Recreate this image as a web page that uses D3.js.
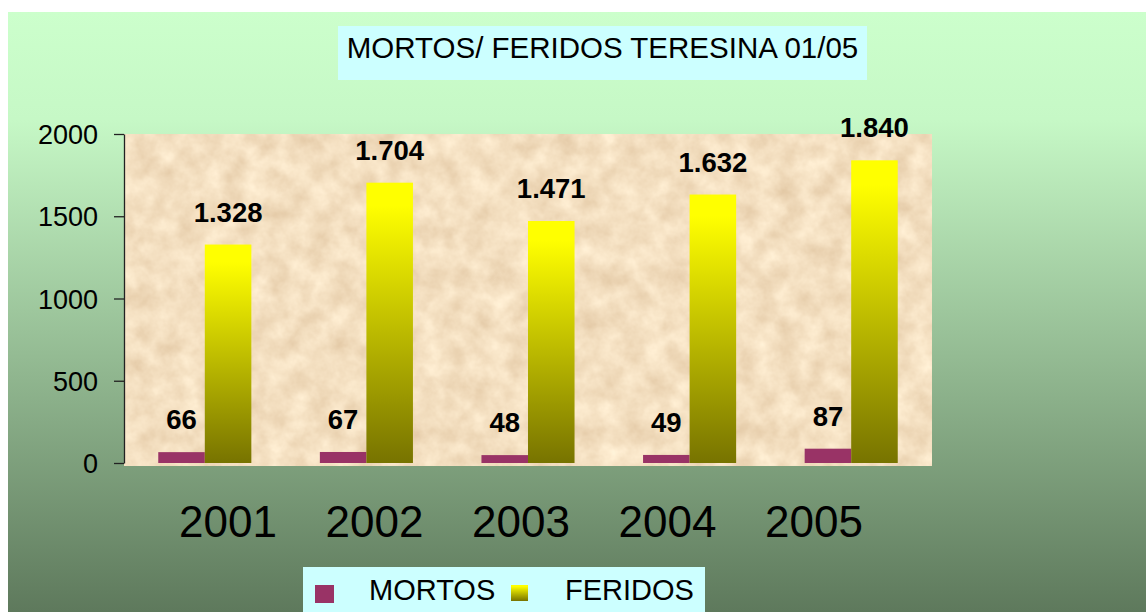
<!DOCTYPE html>
<html>
<head>
<meta charset="utf-8">
<script src="https://cdn.jsdelivr.net/npm/d3@7"></script>
<style>
  body { margin: 0; background: #fff; }
  svg { display: block; font-family: "Liberation Sans", Arial, sans-serif; }
</style>
</head>
<body>
<div id="chart"></div>
<script>
// dados
const years = ["2001", "2002", "2003", "2004", "2005"];
const series = ["MORTOS", "FERIDOS"];
const mortos = [66, 67, 48, 49, 87];
const feridos = [1328, 1704, 1471, 1632, 1840];
const yTicks = [0, 500, 1000, 1500, 2000];
const title = "MORTOS/ FERIDOS TERESINA 01/05";

const W = 1146, H = 612;
const plot = { left: 124, right: 932, top: 134, bottom: 463 };

const br = d3.formatLocale({ decimal: ",", thousands: ".", grouping: [3], currency: ["R$", ""] });
const fmt = br.format(",d");

const svg = d3.select("#chart").append("svg")
  .attr("width", W).attr("height", H);

const defs = svg.append("defs");

// fundo verde
const bg = defs.append("linearGradient").attr("id", "bg")
  .attr("x1", 0).attr("y1", 0).attr("x2", 0).attr("y2", 1);
bg.append("stop").attr("offset", "0%").attr("stop-color", "#ccffcc");
bg.append("stop").attr("offset", "18%").attr("stop-color", "#c6f8c6");
bg.append("stop").attr("offset", "100%").attr("stop-color", "#5e795c");

// barras amarelas
const yel = defs.append("linearGradient").attr("id", "yel")
  .attr("x1", 0).attr("y1", 0).attr("x2", 0).attr("y2", 1);
yel.append("stop").attr("offset", "0%").attr("stop-color", "#ffff00");
yel.append("stop").attr("offset", "8%").attr("stop-color", "#ffff00");
yel.append("stop").attr("offset", "100%").attr("stop-color", "#777300");

// textura de papel
const paper = defs.append("filter").attr("id", "paper")
  .attr("x", 0).attr("y", 0).attr("width", 1).attr("height", 1)
  .attr("color-interpolation-filters", "sRGB");
paper.append("feTurbulence").attr("type", "fractalNoise")
  .attr("baseFrequency", 0.045).attr("numOctaves", 4).attr("seed", 7);
paper.append("feColorMatrix").attr("type", "matrix")
  .attr("values", "0.14 0 0 0 0.885  0.19 0 0 0 0.78  0.23 0 0 0 0.64  0 0 0 0 1");

svg.append("rect").attr("x", 8).attr("y", 12)
  .attr("width", W - 8).attr("height", H - 12).attr("fill", "url(#bg)");

// titulo
svg.append("rect").attr("x", 338).attr("y", 26).attr("width", 529).attr("height", 54)
  .attr("fill", "#ccffff");
svg.append("text").attr("x", 602.5).attr("y", 58).attr("text-anchor", "middle")
  .attr("font-size", 29.5).attr("fill", "#000").text(title);

// area do grafico
svg.append("rect").attr("x", plot.left).attr("y", plot.top)
  .attr("width", plot.right - plot.left).attr("height", 466 - plot.top)
  .attr("filter", "url(#paper)");

const x = d3.scaleBand().domain(years).range([plot.left, plot.right])
  .paddingInner(0.424).paddingOuter(0.212);
const xs = d3.scaleBand().domain(series).range([0, x.bandwidth()]);
const y = d3.scaleLinear().domain([0, 2000]).range([plot.bottom, plot.top]);
const xl = d3.scalePoint().domain(years).range([228, 814]);

const rows = years.map((yr, i) => ({ year: yr, MORTOS: mortos[i], FERIDOS: feridos[i] }));
const fill = { MORTOS: "#993366", FERIDOS: "url(#yel)" };

const g = svg.append("g").selectAll("g").data(rows).join("g")
  .attr("transform", d => `translate(${x(d.year)},0)`);

g.selectAll("rect").data(d => series.map(s => ({ s, v: d[s] }))).join("rect")
  .attr("x", d => xs(d.s))
  .attr("y", d => y(d.v))
  .attr("width", xs.bandwidth())
  .attr("height", d => y(0) - y(d.v))
  .attr("fill", d => fill[d.s]);

g.selectAll("text").data(d => series.map(s => ({ s, v: d[s] }))).join("text")
  .attr("x", d => xs(d.s) + xs.bandwidth() / 2)
  .attr("y", d => y(d.v) - 23)
  .attr("text-anchor", "middle")
  .attr("font-size", 27.5).attr("font-weight", "bold")
  .text(d => fmt(d.v));

// eixo y
const ya = svg.append("g").attr("transform", `translate(${plot.left},0)`)
  .call(d3.axisLeft(y).tickValues(yTicks).tickFormat(d3.format("d"))
    .tickSize(10).tickSizeOuter(0).tickPadding(16));
ya.select(".domain").attr("stroke", "#222").attr("stroke-width", 1.3);
ya.selectAll(".tick line").attr("stroke", "#222").attr("stroke-width", 1.3);
ya.selectAll(".tick text").attr("font-size", 27).attr("fill", "#000")
  .attr("font-family", "\"Liberation Sans\", Arial, sans-serif").attr("dy", "0.36em");

// anos
svg.append("g").selectAll("text").data(years).join("text")
  .attr("x", d => xl(d)).attr("y", 537)
  .attr("text-anchor", "middle").attr("font-size", 44).attr("fill", "#000")
  .text(d => d);

// legenda
const leg = svg.append("g");
leg.append("rect").attr("x", 303).attr("y", 567).attr("width", 402).attr("height", 50)
  .attr("fill", "#ccffff");
const legItems = [
  { name: series[0], sx: 315, sw: 19, sh: 18, tx: 369 },
  { name: series[1], sx: 511, sw: 17, sh: 16, tx: 565 }
];
leg.selectAll("rect.sw").data(legItems).join("rect").attr("class", "sw")
  .attr("x", d => d.sx).attr("y", 585).attr("width", d => d.sw).attr("height", d => d.sh)
  .attr("fill", d => fill[d.name]);
leg.selectAll("text").data(legItems).join("text")
  .attr("x", d => d.tx).attr("y", 600).attr("font-size", 29).attr("fill", "#000")
  .text(d => d.name);
</script>
</body>
</html>
